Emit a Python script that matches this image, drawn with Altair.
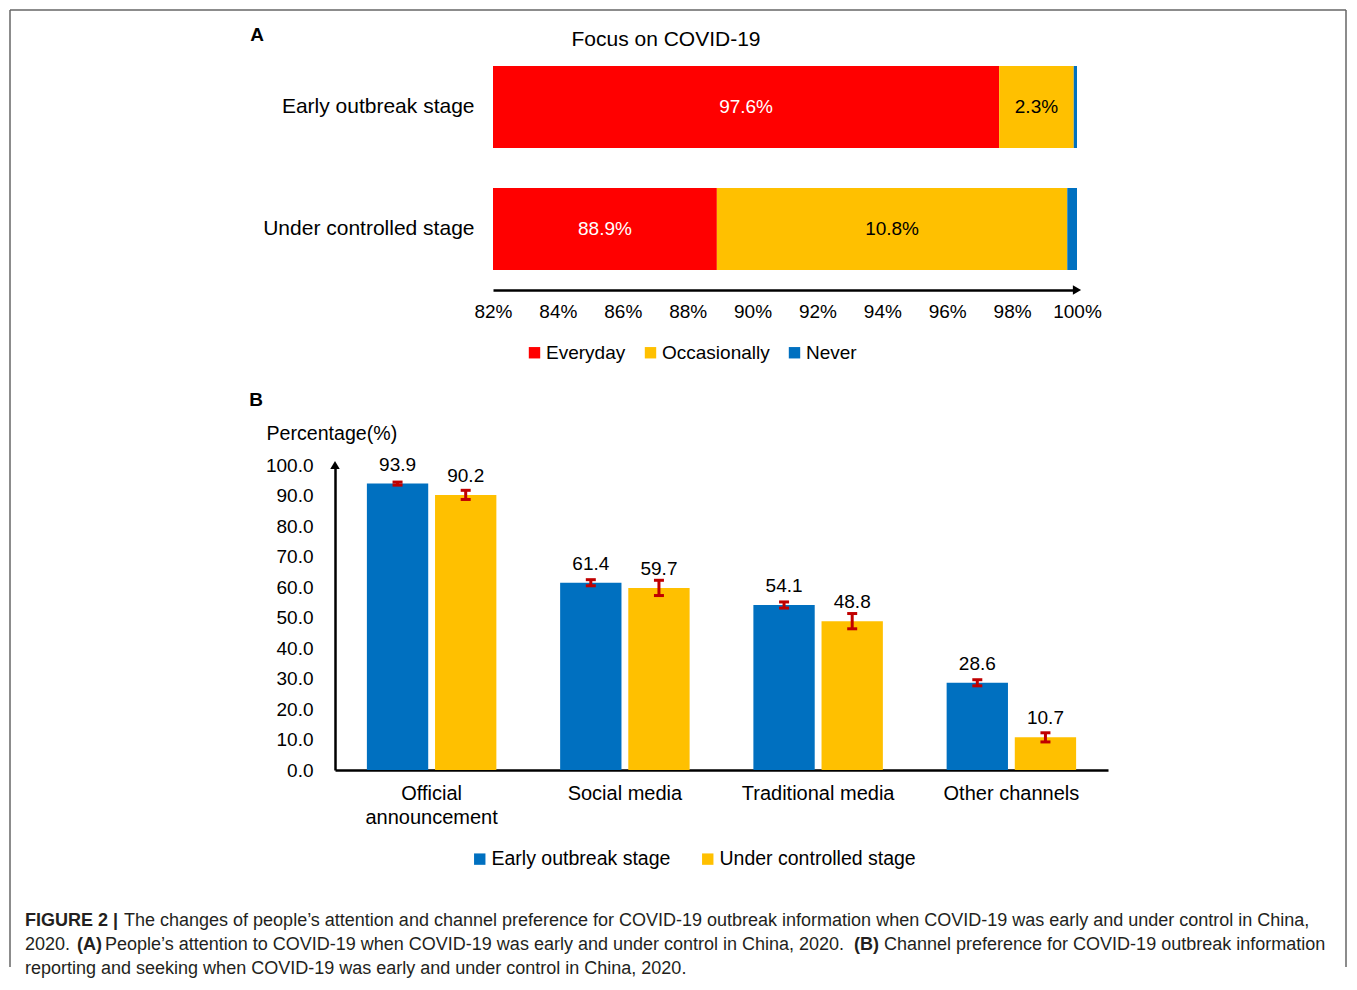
import altair as alt
import pandas as pd

# ---------------- data ----------------
# Panel A: focus on COVID-19
stages = ["Early outbreak stage", "Under controlled stage"]
focus_levels = ["Everyday", "Occasionally", "Never"]
everyday = [97.6, 88.9]
occasionally = [2.3, 10.8]
never = [0.1, 0.3]
axis_a_ticks = [82, 84, 86, 88, 90, 92, 94, 96, 98, 100]

# Panel B: channel preference
channels = ["Official announcement", "Social media", "Traditional media", "Other channels"]
early_pct = [93.9, 61.4, 54.1, 28.6]
under_pct = [90.2, 59.7, 48.8, 10.7]
early_err = [0.5, 1.0, 1.0, 1.0]
under_err = [1.5, 2.5, 2.5, 1.5]
axis_b_ticks = [0, 10, 20, 30, 40, 50, 60, 70, 80, 90, 100]

FONT = "Liberation Sans"
RED, YELLOW, BLUE, ERR = "#FF0000", "#FFC000", "#0070C0", "#C00000"

# ---------------- tables ----------------
rows = []
for i, s in enumerate(stages):
    start = 0.0
    for lvl, vals in zip(focus_levels, [everyday, occasionally, never]):
        v = vals[i]
        rows.append({"stage": s, "level": lvl, "value": v, "start": start, "end": start + v})
        start += v
df_a = pd.DataFrame(rows)

rows = []
for i, c in enumerate(channels):
    for s, p, e in zip(stages, [early_pct[i], under_pct[i]], [early_err[i], under_err[i]]):
        rows.append({"channel": c, "stage": s, "pct": p, "lo": p - e, "hi": p + e})
df_b = pd.DataFrame(rows)

one = alt.Data(values=[{}])

# ---------------- panel A ----------------
WA, HA, XA0 = 742, 244, 158
xa_scale = alt.Scale(domain=[82, 100], range=[XA0, WA], clamp=True, nice=False, zero=False)
xa_axis = alt.Axis(values=axis_a_ticks, labelExpr="datum.value + '%'", title=None,
                   domainColor="black", domainWidth=2.5, ticks=False, grid=False,
                   labelOverlap=False, labelFlush=False, labelBound=False,
                   labelPadding=12, labelFontSize=19, labelColor="black", labelFont=FONT)
ya_axis = alt.Axis(title=None, domain=False, ticks=False, labelFontSize=21, labelLimit=400,
                   labelPadding=19, offset=-XA0, labelColor="black", labelFont=FONT)
ya = alt.Y("stage:N", sort=stages,
           scale=alt.Scale(domain=stages, paddingInner=0.328, paddingOuter=0.164), axis=ya_axis)

bars_a = alt.Chart(df_a).mark_bar().encode(
    x=alt.X("start:Q", scale=xa_scale, axis=xa_axis),
    x2="end:Q",
    y=ya,
    color=alt.Color("level:N", scale=alt.Scale(domain=focus_levels, range=[RED, YELLOW, BLUE]),
                    legend=alt.Legend(orient="none", legendX=190, legendY=297, direction="horizontal",
                                      title=None, symbolType="square", symbolSize=130,
                                      symbolStrokeWidth=0, labelFontSize=19, labelFont=FONT,
                                      labelLimit=400, labelColor="black", columnPadding=15,
                                      labelOffset=2)),
)

labels_a = alt.Chart(df_a).transform_filter(
    alt.datum.level != "Never"
).transform_calculate(
    mid="(max(datum.start, 82) + datum.end) / 2",
    lbl="format(datum.value, '.1f') + '%'",
).mark_text(fontSize=19, baseline="middle", align="center", font=FONT).encode(
    x=alt.X("mid:Q", scale=xa_scale, axis=xa_axis),
    y=ya,
    text="lbl:N",
    color=alt.condition(alt.datum.level == "Everyday", alt.value("white"), alt.value("black")),
)

arrow_a = alt.Chart(one).mark_point(shape="triangle-right", filled=True, color="black",
                                    size=90, opacity=1).encode(
    x=alt.value(WA), y=alt.value(HA))
title_a = alt.Chart(one).mark_text(text="Focus on COVID-19", fontSize=21, font=FONT,
                                   baseline="middle", align="center", color="black").encode(
    x=alt.value(331), y=alt.value(-6))
tag_a = alt.Chart(one).mark_text(text="A", fontSize=19, fontWeight="bold", font=FONT,
                                 baseline="middle", align="center", color="black").encode(
    x=alt.value(-78), y=alt.value(-11))

panel_a = alt.layer(bars_a, labels_a, arrow_a, title_a, tag_a).properties(width=WA, height=HA)

# ---------------- panel B ----------------
WB, HB = 773, 305
xb_axis = alt.Axis(title=None, labelAngle=0, domainColor="black", domainWidth=2.5, ticks=False,
                   labelPadding=13, labelFontSize=20, labelColor="black", labelFont=FONT,
                   labelLineHeight=24, labelLimit=400,
                   labelExpr="length(datum.label) > 20 ? split(datum.label, ' ') : datum.label")
xb = alt.X("channel:N", sort=channels,
           scale=alt.Scale(domain=channels, paddingInner=0.33, paddingOuter=0.165), axis=xb_axis)
xob = alt.XOffset("stage:N", sort=stages, scale=alt.Scale(domain=stages, paddingInner=0.1))
yb_scale = alt.Scale(domain=[0, 100], nice=False)
yb_axis = alt.Axis(values=axis_b_ticks, format=".1f", title="Percentage(%)", titleAngle=0,
                   titleX=-69, titleY=-32, titleAlign="left", titleBaseline="middle",
                   titleFontSize=19.6, titleFontWeight="normal", titleFont=FONT,
                   titleColor="black", labelFontSize=19, labelFont=FONT, labelColor="black",
                   labelOverlap=False, labelFlush=False, tickCount=11,
                   labelPadding=22, domainColor="black", domainWidth=2.5, ticks=False,
                   grid=False)

bars_b = alt.Chart(df_b).mark_bar().encode(
    x=xb, xOffset=xob,
    y=alt.Y("pct:Q", scale=yb_scale, axis=yb_axis),
    color=alt.Color("stage:N", scale=alt.Scale(domain=stages, range=[BLUE, YELLOW]),
                    legend=alt.Legend(orient="none", legendX=135, legendY=384, direction="horizontal",
                                      title=None, symbolType="square", symbolSize=130,
                                      symbolStrokeWidth=0, labelFontSize=19.5, labelFont=FONT,
                                      labelLimit=400, labelColor="black", columnPadding=27,
                                      labelOffset=2)),
)

err_b = alt.Chart(df_b).mark_rule(color=ERR, strokeWidth=3).encode(
    x=xb, xOffset=xob, y=alt.Y("lo:Q", scale=yb_scale, axis=yb_axis), y2="hi:Q")
cap_lo = alt.Chart(df_b).mark_tick(color=ERR, thickness=3, size=10, opacity=1).encode(
    x=xb, xOffset=xob, y=alt.Y("lo:Q", scale=yb_scale, axis=yb_axis))
cap_hi = alt.Chart(df_b).mark_tick(color=ERR, thickness=3, size=10, opacity=1).encode(
    x=xb, xOffset=xob, y=alt.Y("hi:Q", scale=yb_scale, axis=yb_axis))

vals_b = alt.Chart(df_b).mark_text(fontSize=19, dy=-19, baseline="middle", font=FONT,
                                   color="black").encode(
    x=xb, xOffset=xob, y=alt.Y("pct:Q", scale=yb_scale, axis=yb_axis),
    text=alt.Text("pct:Q", format=".1f"))

arrow_b = alt.Chart(one).mark_point(shape="triangle-up", filled=True, color="black",
                                    size=90, opacity=1).encode(
    x=alt.value(0), y=alt.value(0))
tag_b = alt.Chart(one).mark_text(text="B", fontSize=19, fontWeight="bold", font=FONT,
                                 baseline="middle", align="center", color="black").encode(
    x=alt.value(-79), y=alt.value(-65))

panel_b = alt.layer(bars_b, err_b, cap_lo, cap_hi, vals_b, arrow_b, tag_b).properties(width=WB, height=HB)

# ---------------- caption + frame ----------------
CAP_X = -335  # page-x offset of the caption panel origin


def seg(text, px, dy, bold=False):
    return alt.Chart(one).mark_text(text=text, fontSize=18, font=FONT, align="left",
                                    baseline="middle", color="#231f20",
                                    fontWeight="bold" if bold else "normal").encode(
        x=alt.value(px + CAP_X), y=alt.value(dy))


caption_layers = [
    seg("FIGURE 2 |", 25, -24, True),
    seg("The changes of people\u2019s attention and channel preference for COVID-19 outbreak "
        "information when COVID-19 was early and under control in China,", 124, -24),
    seg("2020.", 25, 0),
    seg("(A)", 77, 0, True),
    seg("People\u2019s attention to COVID-19 when COVID-19 was early and under control in China, 2020.",
        105, 0),
    seg("(B)", 854, 0, True),
    seg("Channel preference for COVID-19 outbreak information", 884, 0),
    seg("reporting and seeking when COVID-19 was early and under control in China, 2020.", 25, 24),
]

FR_L, FR_R, FR_T, FR_B = 10 + CAP_X, 1346 + CAP_X, 10 - 945, 22
frame_style = dict(color="#666666", strokeWidth=1.5)
frame = [
    alt.Chart(one).mark_rule(**frame_style).encode(x=alt.value(FR_L), y=alt.value(FR_T), y2=alt.value(FR_B)),
    alt.Chart(one).mark_rule(**frame_style).encode(x=alt.value(FR_R), y=alt.value(FR_T), y2=alt.value(FR_B)),
    alt.Chart(one).mark_rule(**frame_style).encode(x=alt.value(FR_L), x2=alt.value(FR_R), y=alt.value(FR_T)),
]

caption = alt.layer(*frame, *caption_layers).properties(width=WB, height=20)

chart = alt.vconcat(
    panel_a, panel_b, caption, spacing=175, bounds="flush", padding=0,
).resolve_scale(color="independent").configure(
    font=FONT
).configure_view(stroke="transparent")

chart.save("out.html", embed_options={"renderer": "svg", "actions": False})
